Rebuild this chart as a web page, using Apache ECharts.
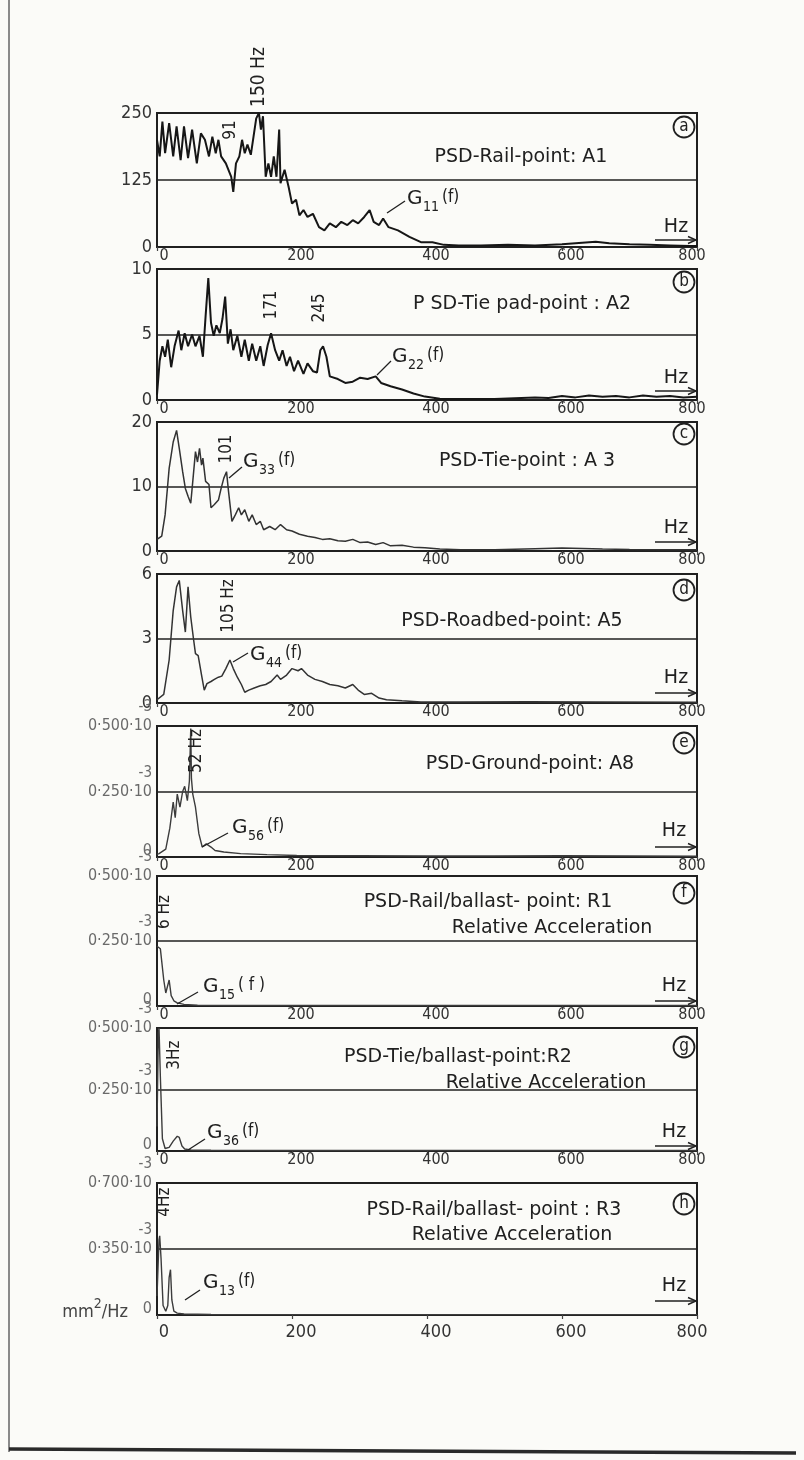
<!DOCTYPE html>
<html>
<head>
<meta charset="utf-8">
<script src="https://cdn.jsdelivr.net/npm/echarts@6/dist/echarts.min.js"></script>
<style>
  html, body { margin: 0; padding: 0; background: #fbfbf8; }
  #chart { width: 804px; height: 1460px; }
</style>
</head>
<body>
<div id="chart"></div>
<script>
// ---- data (frequency in Hz, PSD value) ----
const fA = [0,4,8,12,18,24,29,35,40,46,52,59,65,71,77,82,87,91,95,102,110,113,117,122,126,130,134,139,143,147,151,154,157,161,165,169,173,177,181,183,189,195,200,206,211,217,223,231,240,248,256,265,273,282,290,298,307,315,321,329,335,343,357,374,391,408,425,447,480,520,560,600,630,650,670,700,730,760,790,800];
const vA = [200,169,234,175,231,169,225,162,225,166,219,156,212,200,169,206,175,200,169,156,131,103,156,169,200,175,191,172,206,240,250,219,244,131,156,131,169,131,219,119,144,112,81,88,59,69,56,62,37,31,44,37,47,41,50,44,56,69,47,41,53,37,31,19,9,9,4,3,3,4,3,5,8,10,7,5,4,3,2,2];

const fB = [0,4,8,12,16,21,26,32,36,41,46,52,57,63,68,72,76,80,84,88,93,97,101,105,109,113,119,125,130,136,141,147,153,158,164,169,175,181,186,192,197,203,209,217,223,231,237,242,246,251,256,268,279,290,301,312,324,332,346,363,380,397,419,450,500,560,580,600,620,640,660,680,700,720,740,760,780,800];
const vB = [0.4,3.0,4.1,3.3,4.6,2.5,4.1,5.3,3.8,5.1,4.1,5.0,4.1,4.9,3.3,6.4,9.3,5.9,4.9,5.7,5.1,6.2,7.9,4.3,5.4,3.8,4.9,3.3,4.6,3.0,4.3,3.0,4.1,2.6,4.2,5.1,3.8,3.0,3.8,2.6,3.3,2.2,3.0,2.0,2.8,2.2,2.1,3.8,4.1,3.3,1.8,1.6,1.3,1.4,1.7,1.6,1.8,1.3,1.05,0.8,0.5,0.26,0.1,0.08,0.08,0.2,0.15,0.3,0.2,0.35,0.25,0.3,0.2,0.35,0.25,0.3,0.2,0.25];

const fC = [0,7,12,18,24,29,33,38,42,46,50,53,57,60,63,66,68,72,77,80,85,91,95,99,103,106,111,116,121,125,130,136,141,147,153,158,167,175,183,192,200,211,223,234,245,256,268,279,290,301,312,324,335,346,363,380,397,419,450,500,560,600,630,660,700,750,800];
const vC = [1.8,2.3,5.6,12.8,16.9,18.7,15.9,12.3,9.7,8.5,7.4,10.8,15.4,13.8,15.9,13.3,14.4,10.8,10.3,6.7,7.2,7.9,9.7,11.3,12.3,9.2,4.6,5.6,6.7,5.6,6.4,4.6,5.6,4.1,4.6,3.3,3.8,3.3,4.1,3.3,3.1,2.6,2.3,2.1,1.8,1.9,1.6,1.5,1.8,1.3,1.4,1.0,1.3,0.8,0.9,0.6,0.5,0.3,0.2,0.2,0.35,0.45,0.4,0.3,0.25,0.2,0.2];

const fD = [0,10,18,24,29,33,38,42,46,50,54,57,61,66,70,74,80,85,91,96,102,108,113,119,125,130,136,144,153,161,169,178,183,192,200,209,214,223,234,245,256,268,279,290,298,307,318,329,340,363,391,450,550,650,800];
const vD = [0.15,0.4,2.0,4.3,5.4,5.7,4.3,3.3,5.4,4.0,3.0,2.3,2.2,1.3,0.6,0.9,1.0,1.1,1.2,1.25,1.6,2.0,1.6,1.2,0.86,0.5,0.6,0.7,0.8,0.86,1.0,1.3,1.1,1.3,1.6,1.5,1.6,1.3,1.1,1.0,0.86,0.8,0.7,0.86,0.6,0.4,0.45,0.23,0.15,0.1,0.05,0.05,0.06,0.05,0.04];

// panels e-h are in units of 10^-3
const fE = [0,3,13,19,24,27,30,34,38,41,45,48,50,51,53,57,62,67,73,80,86,99,124,163,207,300,400,500,600,700,800];
const vE = [0.01,0.013,0.03,0.11,0.21,0.15,0.24,0.19,0.25,0.27,0.215,0.29,0.49,0.3,0.24,0.19,0.089,0.038,0.05,0.038,0.025,0.019,0.013,0.009,0.006,0.005,0.004,0.004,0.005,0.004,0.003];

const fF = [0,5,10,13,15,18,21,25,30,40,60,100,200,400,600,800];
const vF = [0.23,0.22,0.1,0.05,0.07,0.1,0.04,0.02,0.012,0.006,0.003,0.002,0.002,0.002,0.002,0.002];

const fG = [0,2,3,5,8,12,18,24,30,33,37,41,50,80,200,400,600,800];
const vG = [0.1,0.48,0.5,0.3,0.05,0.01,0.015,0.04,0.06,0.055,0.02,0.008,0.004,0.003,0.002,0.002,0.002,0.002];

const fH = [0,3,4,6,9,13,16,18,20,22,25,30,40,80,200,400,600,800];
const vH = [0.1,0.4,0.42,0.3,0.05,0.02,0.05,0.2,0.24,0.08,0.02,0.01,0.005,0.003,0.002,0.002,0.002,0.002];

// y-axis tick labels (bottom, middle, top)
const yLabA = ['0', '125', '250'];
const yLabB = ['0', '5', '10'];
const yLabC = ['0', '10', '20'];
const yLabD = ['0', '3', '6'];
const yLabE = ['0', '0·250·10', '0·500·10'];
const yLabF = ['0', '0·250·10', '0·500·10'];
const yLabG = ['0', '0·250·10', '0·500·10'];
const yLabH = ['0', '0·350·10', '0·700·10'];
const yMax = [250, 10, 20, 6, 0.5, 0.5, 0.5, 0.7];

const freqs = [fA, fB, fC, fD, fE, fF, fG, fH];
const vals = [vA, vB, vC, vD, vE, vF, vG, vH];
const yLabs = [yLabA, yLabB, yLabC, yLabD, yLabE, yLabF, yLabG, yLabH];

// layout of the 8 stacked panels
const panelTop = [113, 269, 422, 574, 726, 876, 1028, 1183];
const panelBot = [247, 400, 551, 703, 857, 1006, 1151, 1315];
const lineColor = ['#161616', '#161616', '#333', '#333', '#3c3c3c', '#3c3c3c', '#3c3c3c', '#3c3c3c'];
const lineWidth = [2, 2, 1.5, 1.5, 1.4, 1.4, 1.4, 1.4];

const NARROW = "'DejaVu Sans Condensed', 'Liberation Sans Narrow', 'DejaVu Sans', sans-serif";
const WIDE = "'DejaVu Sans', 'Liberation Sans', sans-serif";
const INK = '#202020';
const GREY = '#6a6a6a';

var chartDom = document.getElementById('chart');
var myChart = echarts.init(chartDom, null, { renderer: 'canvas' });

const grids = [], xAxes = [], yAxes = [], series = [];
for (let i = 0; i < 8; i++) {
  const last = i === 7;
  const xs = last ? 18 : 16;
  grids.push({
    left: 157, width: 540,
    top: panelTop[i], height: panelBot[i] - panelTop[i],
    show: true, borderColor: INK, borderWidth: 2
  });
  xAxes.push({
    gridIndex: i, type: 'value', min: 0, max: 800, interval: 200,
    axisLine: { show: true, lineStyle: { color: INK, width: 2 } },
    axisTick: { show: true, length: 4, lineStyle: { color: '#444', width: 1.2 } },
    splitLine: { show: false },
    axisLabel: {
      margin: last ? 8 : 1,
      fontFamily: NARROW, fontSize: xs, color: '#333',
      formatter: function (v) {
        if (v === 0) return '{z|0}';
        if (v === 800) return '{r|800}';
        return '{m|' + v + '}';
      },
      rich: {
        z: { fontFamily: NARROW, fontSize: xs, color: '#333', padding: [0, 0, 0, 14] },
        m: { fontFamily: NARROW, fontSize: xs, color: '#333', padding: [0, 0, 0, 18] },
        r: { fontFamily: NARROW, fontSize: xs, color: '#333', padding: [0, 10, 0, 0] }
      }
    }
  });
  const labs = yLabs[i];
  const scaled = i >= 4;
  yAxes.push({
    gridIndex: i, type: 'value', min: 0, max: yMax[i], interval: yMax[i] / 2,
    axisLine: { show: false }, axisTick: { show: false },
    splitLine: { show: true, lineStyle: { color: INK, width: 1.6 } },
    axisLabel: {
      margin: 5, fontFamily: NARROW, fontSize: scaled ? 16 : 18, color: scaled ? GREY : '#333',
      formatter: function (v, idx) {
        const t = labs[idx];
        if (!scaled) return t;
        if (idx === 0) return '{z|0}';
        return '{e|-3}\n{m|' + t + '}\n{e| }';
      },
      rich: {
        e: { fontFamily: NARROW, fontSize: 15, color: GREY, lineHeight: 19, align: 'right' },
        m: { fontFamily: NARROW, fontSize: 16, color: GREY, lineHeight: 18, align: 'right' },
        z: { fontFamily: NARROW, fontSize: 16, color: GREY, padding: [0, 0, 12, 0], align: 'right' }
      }
    }
  });
  series.push({
    type: 'line', xAxisIndex: i, yAxisIndex: i,
    data: freqs[i].map((f, k) => [f, vals[i][k]]),
    showSymbol: false, silent: true,
    lineStyle: { color: lineColor[i], width: lineWidth[i] }
  });
}

// ---- annotation helpers ----
function txt(x, y, text, size, extra, family) {
  return Object.assign({
    type: 'text', x: x, y: y, silent: true, z: 50,
    style: { text: text, fontFamily: family || NARROW, fontSize: size, fill: INK,
      textAlign: 'center', textVerticalAlign: 'middle', align: 'center', verticalAlign: 'middle' }
  }, extra || {});
}
function title(x, y, text) {
  return txt(x, y, text, 19, null, WIDE);
}
function vtxt(x, y, text, size) {
  return txt(x, y, text, size, { rotation: Math.PI / 2 });
}
function seg(x1, y1, x2, y2, w) {
  return { type: 'line', silent: true, z: 50, shape: { x1: x1, y1: y1, x2: x2, y2: y2 },
    style: { stroke: INK, lineWidth: w || 1.3 } };
}
function badge(cx, cy, letter) {
  return [
    { type: 'circle', silent: true, z: 50, shape: { cx: cx, cy: cy, r: 10.5 },
      style: { fill: 'none', stroke: INK, lineWidth: 1.8 } },
    txt(cx, cy, letter, 17)
  ];
}
function gsub(x, y, sub, tail) {
  const left = { textAlign: 'left', align: 'left' };
  const g = txt(x, y, 'G', 20, null, WIDE); Object.assign(g.style, left);
  const s = txt(x + 16, y + 8, sub, 14); Object.assign(s.style, left);
  const t = txt(x + 19 + sub.length * 8, y - 1, tail || '(f)', 17); Object.assign(t.style, left);
  return [g, s, t];
}
function hz(cx, y, ay) {
  return [
    txt(cx, y, 'Hz', 19, null, WIDE),
    seg(655, ay, 696, ay, 1.5),
    { type: 'polyline', silent: true, z: 50, shape: { points: [[688, ay - 3.5], [696, ay], [688, ay + 3.5]] },
      style: { stroke: INK, fill: 'none', lineWidth: 1.4 } }
  ];
}

const g = [];
// page frame of the scan
g.push({ type: 'line', silent: true, shape: { x1: 9, y1: 0, x2: 9, y2: 1452 }, style: { stroke: '#8a8a8a', lineWidth: 2 } });
g.push({ type: 'line', silent: true, shape: { x1: 9, y1: 1449, x2: 796, y2: 1453 }, style: { stroke: '#2a2a2a', lineWidth: 3.5 } });

// (a)
g.push(vtxt(259, 77, '150 Hz', 19), vtxt(231, 130, '91', 17));
g.push(title(521, 157, 'PSD-Rail-point: A1'));
g.push(...badge(684, 127, 'a'));
g.push(...gsub(407, 199, '11'), seg(387, 213, 405, 201));
g.push(...hz(676, 227, 240));
// (b)
g.push(vtxt(272, 305, '171', 17), vtxt(320, 308, '245', 17));
g.push(title(522, 304, 'P SD-Tie pad-point : A2'));
g.push(...badge(684, 282, 'b'));
g.push(...gsub(392, 357, '22'), seg(377, 375, 391, 361));
g.push(...hz(676, 378, 391));
// (c)
g.push(vtxt(227, 449, '101', 17));
g.push(title(527, 461, 'PSD-Tie-point : A 3'));
g.push(...badge(684, 434, 'c'));
g.push(...gsub(243, 462, '33'), seg(229, 478, 242, 467));
g.push(...hz(676, 528, 542));
// (d)
g.push(vtxt(229, 606, '105 Hz', 17));
g.push(title(512, 621, 'PSD-Roadbed-point: A5'));
g.push(...badge(684, 590, 'd'));
g.push(...gsub(250, 655, '44'), seg(233, 662, 248, 653));
g.push(...hz(676, 678, 693));
// (e)
g.push(vtxt(197, 751, '52 Hz', 17));
g.push(title(530, 764, 'PSD-Ground-point: A8'));
g.push(...badge(684, 743, 'e'));
g.push(...gsub(232, 828, '56'), seg(202, 847, 228, 833));
g.push(...hz(674, 831, 847));
// (f)
g.push(vtxt(165, 912, '6 Hz', 17));
g.push(title(488, 902, 'PSD-Rail/ballast- point: R1'));
g.push(title(552, 928, 'Relative Acceleration'));
g.push(...badge(684, 893, 'f'));
g.push(...gsub(203, 987, '15', '( f )'), seg(177, 1004, 198, 992));
g.push(...hz(674, 986, 1001));
// (g)
g.push(vtxt(175, 1055, '3Hz', 17));
g.push(title(458, 1057, 'PSD-Tie/ballast-point:R2'));
g.push(title(546, 1083, 'Relative Acceleration'));
g.push(...badge(684, 1047, 'g'));
g.push(...gsub(207, 1133, '36'), seg(188, 1150, 205, 1139));
g.push(...hz(674, 1132, 1146));
// (h)
g.push(vtxt(165, 1202, '4Hz', 17));
g.push(title(494, 1210, 'PSD-Rail/ballast- point : R3'));
g.push(title(512, 1235, 'Relative Acceleration'));
g.push(...badge(684, 1204, 'h'));
g.push(...gsub(203, 1283, '13'), seg(185, 1300, 200, 1290));
g.push(...hz(674, 1286, 1301));
// unit label
g.push({ type: 'text', silent: true, x: 128, y: 1309,
  style: { text: '{a|mm}{s|2}{a|/Hz}', fontFamily: NARROW, fill: '#444', textAlign: 'right', align: 'right',
    textVerticalAlign: 'middle', verticalAlign: 'middle',
    rich: { a: { fontFamily: NARROW, fontSize: 18, fill: '#444', color: '#444', lineHeight: 24, verticalAlign: 'bottom' },
            s: { fontFamily: NARROW, fontSize: 14, fill: '#444', color: '#444', lineHeight: 24, verticalAlign: 'top' } } } });

var option = {
  backgroundColor: '#fbfbf8',
  animation: false,
  grid: grids,
  xAxis: xAxes,
  yAxis: yAxes,
  series: series,
  graphic: { elements: g }
};
option && myChart.setOption(option, true);
</script>
</body>
</html>
